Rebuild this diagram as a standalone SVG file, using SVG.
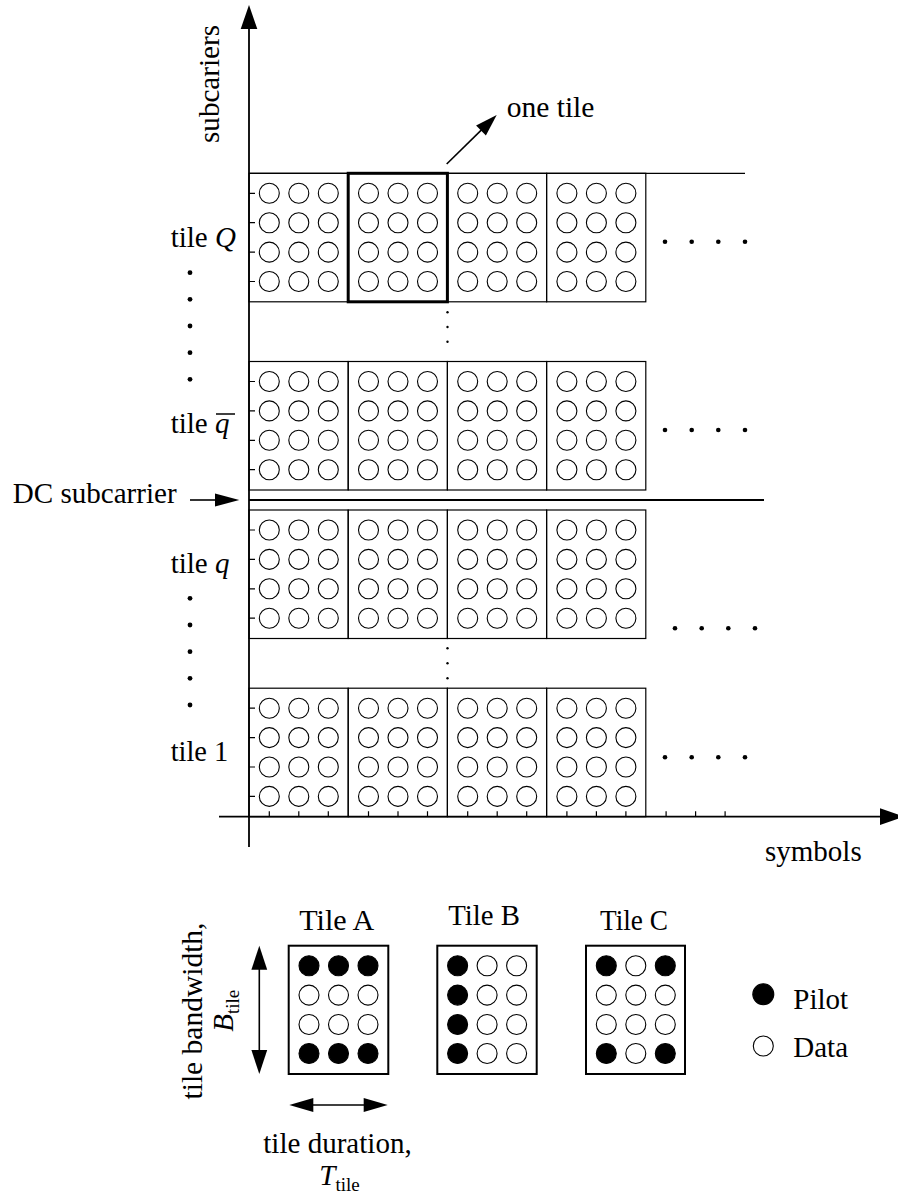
<svg xmlns="http://www.w3.org/2000/svg" xmlns:xlink="http://www.w3.org/1999/xlink" width="898" height="1197" viewBox="0 0 898 1197">
<style>
.t{font-family:"Liberation Serif","Times New Roman",serif;font-size:29px;fill:#000}
.i{font-style:italic}
.sub{font-size:19px}
.ax{stroke:#000;stroke-width:1.8;fill:none}
.ln{stroke:#000;stroke-width:1.3;fill:none}
.tk{stroke:#000;stroke-width:1.2;fill:none}
.c{fill:#fff;stroke:#000;stroke-width:1.1}
.p{fill:#000;stroke:#000;stroke-width:1.1}
.dot{fill:#000}
</style>
<defs>
<g id="tile">
<rect x="0" y="0" width="99.2" height="128.5" fill="none" stroke="#000" stroke-width="1.2"/>
<circle class="c" cx="20.3" cy="20" r="10"/><circle class="c" cx="49.8" cy="20" r="10"/><circle class="c" cx="79.3" cy="20" r="10"/>
<circle class="c" cx="20.3" cy="49.4" r="10"/><circle class="c" cx="49.8" cy="49.4" r="10"/><circle class="c" cx="79.3" cy="49.4" r="10"/>
<circle class="c" cx="20.3" cy="78.8" r="10"/><circle class="c" cx="49.8" cy="78.8" r="10"/><circle class="c" cx="79.3" cy="78.8" r="10"/>
<circle class="c" cx="20.3" cy="108.2" r="10"/><circle class="c" cx="49.8" cy="108.2" r="10"/><circle class="c" cx="79.3" cy="108.2" r="10"/>
</g>
<g id="block">
<use xlink:href="#tile" x="0"/>
<use xlink:href="#tile" x="99.2"/>
<use xlink:href="#tile" x="198.4"/>
<use xlink:href="#tile" x="297.6"/>
</g>
</defs>
<rect width="898" height="1197" fill="#fff"/>

<g id="block-Q"><use xlink:href="#block" x="249" y="173.3"/></g>
<g id="block-qbar"><use xlink:href="#block" x="249" y="361.5"/></g>
<g id="block-q"><use xlink:href="#block" x="249" y="510"/></g>
<g id="block-1"><use xlink:href="#block" x="249" y="688.2"/></g>
<g id="one-tile-box"><rect x="348.2" y="173.3" width="99.2" height="128.5" fill="none" stroke="#000" stroke-width="3"/></g>

<g id="connectors">
<line class="ln" x1="249" y1="173.3" x2="745" y2="173.3"/>
<line x1="249" y1="500" x2="764" y2="500" stroke="#000" stroke-width="2"/>
<line class="ax" x1="249" y1="28" x2="249" y2="847"/>
<polygon points="249,5 240.7,29 257.3,29" fill="#000"/>
<line class="ax" x1="219" y1="816.7" x2="882" y2="816.7"/>
<polygon points="880,808.3 904,816.7 880,825" fill="#000"/>
<path class="tk" d="M249 193.3h6M249 222.7h6M249 252.1h6M249 281.5h6M249 381.5h6M249 410.9h6M249 440.3h6M249 469.7h6M249 530h6M249 559.4h6M249 588.8h6M249 618.2h6M249 708.2h6M249 737.6h6M249 767h6M249 796.4h6"/>
<path class="tk" d="M269.3 816.7v-5.5M298.8 816.7v-5.5M328.3 816.7v-5.5M368.5 816.7v-5.5M398 816.7v-5.5M427.5 816.7v-5.5M467.7 816.7v-5.5M497.2 816.7v-5.5M526.7 816.7v-5.5M566.9 816.7v-5.5M596.4 816.7v-5.5M625.9 816.7v-5.5M666.1 816.7v-5.5M695.6 816.7v-5.5M725.1 816.7v-5.5"/>
<line x1="446.7" y1="164" x2="482" y2="129.4" stroke="#000" stroke-width="1.6"/>
<polygon points="496.7,115 476.1,125.4 485.9,135.4" fill="#000"/>
<line x1="190" y1="500" x2="217" y2="500" stroke="#000" stroke-width="1.6"/>
<polygon points="239.3,500 215,493.5 215,506.5" fill="#000"/>
<line x1="259.3" y1="968" x2="259.3" y2="1052" stroke="#000" stroke-width="1.6"/>
<polygon points="259.3,945.7 251.4,969.7 267.2,969.7" fill="#000"/>
<polygon points="259.3,1074 251.4,1050 267.2,1050" fill="#000"/>
<line x1="311" y1="1105" x2="366" y2="1105" stroke="#000" stroke-width="1.6"/>
<polygon points="289.3,1105 313.3,1097.9 313.3,1112.1" fill="#000"/>
<polygon points="387.7,1105 363.7,1097.9 363.7,1112.1" fill="#000"/>
</g>

<g id="dots">
<circle class="dot" cx="190" cy="272.7" r="2.4"/><circle class="dot" cx="190" cy="299.3" r="2.4"/><circle class="dot" cx="190" cy="326" r="2.4"/><circle class="dot" cx="190" cy="352.7" r="2.4"/><circle class="dot" cx="190" cy="379.3" r="2.4"/>
<circle class="dot" cx="190" cy="598.3" r="2.4"/><circle class="dot" cx="190" cy="625" r="2.4"/><circle class="dot" cx="190" cy="651.7" r="2.4"/><circle class="dot" cx="190" cy="678.3" r="2.4"/><circle class="dot" cx="190" cy="705" r="2.4"/>
<circle class="dot" cx="447.5" cy="312.3" r="1.2"/><circle class="dot" cx="447.5" cy="327" r="1.2"/><circle class="dot" cx="447.5" cy="341.7" r="1.2"/>
<circle class="dot" cx="447.5" cy="648.3" r="1.2"/><circle class="dot" cx="447.5" cy="663.3" r="1.2"/><circle class="dot" cx="447.5" cy="678.3" r="1.2"/>
<circle class="dot" cx="665" cy="241.7" r="2.3"/><circle class="dot" cx="691.7" cy="241.7" r="2.3"/><circle class="dot" cx="718.3" cy="241.7" r="2.3"/><circle class="dot" cx="745" cy="241.7" r="2.3"/>
<circle class="dot" cx="665" cy="430" r="2.3"/><circle class="dot" cx="691.7" cy="430" r="2.3"/><circle class="dot" cx="718.3" cy="430" r="2.3"/><circle class="dot" cx="745" cy="430" r="2.3"/>
<circle class="dot" cx="675" cy="628.3" r="2.3"/><circle class="dot" cx="701.7" cy="628.3" r="2.3"/><circle class="dot" cx="728.3" cy="628.3" r="2.3"/><circle class="dot" cx="755" cy="628.3" r="2.3"/>
<circle class="dot" cx="665" cy="757.3" r="2.3"/><circle class="dot" cx="691.7" cy="757.3" r="2.3"/><circle class="dot" cx="718.3" cy="757.3" r="2.3"/><circle class="dot" cx="745" cy="757.3" r="2.3"/>
</g>

<g id="labels">
<text class="t" transform="translate(219,84) rotate(-90)" text-anchor="middle" textLength="118" lengthAdjust="spacingAndGlyphs">subcariers</text>
<text class="t" x="506.7" y="116.7" textLength="87.7" lengthAdjust="spacingAndGlyphs">one tile</text>
<text class="t" x="170.7" y="246.7">tile <tspan class="i">Q</tspan></text>
<text class="t" x="170.7" y="433">tile <tspan class="i">q</tspan></text>
<line x1="216" y1="414" x2="235" y2="414" stroke="#000" stroke-width="1.5"/>
<text class="t" x="12.7" y="503.3" textLength="164" lengthAdjust="spacingAndGlyphs">DC subcarrier</text>
<text class="t" x="170.7" y="573.3">tile <tspan class="i">q</tspan></text>
<text class="t" x="170.7" y="760.7" textLength="57.6" lengthAdjust="spacingAndGlyphs">tile 1</text>
<text class="t" x="765" y="860.7" textLength="96.7" lengthAdjust="spacingAndGlyphs">symbols</text>
</g>

<g id="tile-A">
<text class="t" x="299.3" y="930" textLength="75" lengthAdjust="spacingAndGlyphs">Tile A</text>
<rect x="288.7" y="945.7" width="99.6" height="128.3" fill="none" stroke="#000" stroke-width="2"/>
<circle class="p" cx="309" cy="965.7" r="10"/><circle class="p" cx="338.5" cy="965.7" r="10"/><circle class="p" cx="368" cy="965.7" r="10"/>
<circle class="c" cx="309" cy="995.1" r="10"/><circle class="c" cx="338.5" cy="995.1" r="10"/><circle class="c" cx="368" cy="995.1" r="10"/>
<circle class="c" cx="309" cy="1024.5" r="10"/><circle class="c" cx="338.5" cy="1024.5" r="10"/><circle class="c" cx="368" cy="1024.5" r="10"/>
<circle class="p" cx="309" cy="1053.5" r="10"/><circle class="p" cx="338.5" cy="1053.5" r="10"/><circle class="p" cx="368" cy="1053.5" r="10"/>
</g>
<g id="tile-B">
<text class="t" x="448.3" y="925" textLength="71.7" lengthAdjust="spacingAndGlyphs">Tile B</text>
<rect x="437.3" y="945.7" width="99.4" height="128.3" fill="none" stroke="#000" stroke-width="2"/>
<circle class="p" cx="457.6" cy="965.7" r="10"/><circle class="c" cx="487.1" cy="965.7" r="10"/><circle class="c" cx="516.6" cy="965.7" r="10"/>
<circle class="p" cx="457.6" cy="995.1" r="10"/><circle class="c" cx="487.1" cy="995.1" r="10"/><circle class="c" cx="516.6" cy="995.1" r="10"/>
<circle class="p" cx="457.6" cy="1024.5" r="10"/><circle class="c" cx="487.1" cy="1024.5" r="10"/><circle class="c" cx="516.6" cy="1024.5" r="10"/>
<circle class="p" cx="457.6" cy="1053.5" r="10"/><circle class="c" cx="487.1" cy="1053.5" r="10"/><circle class="c" cx="516.6" cy="1053.5" r="10"/>
</g>
<g id="tile-C">
<text class="t" x="600" y="930" textLength="68" lengthAdjust="spacingAndGlyphs">Tile C</text>
<rect x="586" y="945.7" width="99" height="128.3" fill="none" stroke="#000" stroke-width="2"/>
<circle class="p" cx="606.3" cy="965.7" r="10"/><circle class="c" cx="635.8" cy="965.7" r="10"/><circle class="p" cx="665.3" cy="965.7" r="10"/>
<circle class="c" cx="606.3" cy="995.1" r="10"/><circle class="c" cx="635.8" cy="995.1" r="10"/><circle class="c" cx="665.3" cy="995.1" r="10"/>
<circle class="c" cx="606.3" cy="1024.5" r="10"/><circle class="c" cx="635.8" cy="1024.5" r="10"/><circle class="c" cx="665.3" cy="1024.5" r="10"/>
<circle class="p" cx="606.3" cy="1053.5" r="10"/><circle class="c" cx="635.8" cy="1053.5" r="10"/><circle class="p" cx="665.3" cy="1053.5" r="10"/>
</g>
<g id="legend">
<circle class="p" cx="763.3" cy="994.3" r="10.5"/>
<text class="t" x="793.3" y="1009">Pilot</text>
<circle class="c" cx="763.3" cy="1046" r="10"/>
<text class="t" x="793.3" y="1056.7">Data</text>
</g>
<g id="dimension-labels">
<text class="t" transform="translate(201.5,1011) rotate(-90)" text-anchor="middle" textLength="177" lengthAdjust="spacingAndGlyphs">tile bandwidth,</text>
<text class="t" transform="translate(233.3,1031.7) rotate(-90)"><tspan class="i">B</tspan><tspan class="sub" dy="6">tile</tspan></text>
<text class="t" x="263.3" y="1153.3" textLength="148.4" lengthAdjust="spacingAndGlyphs">tile duration,</text>
<text class="t" x="319.3" y="1185"><tspan class="i">T</tspan><tspan class="sub" dy="6">tile</tspan></text>
</g>
</svg>
